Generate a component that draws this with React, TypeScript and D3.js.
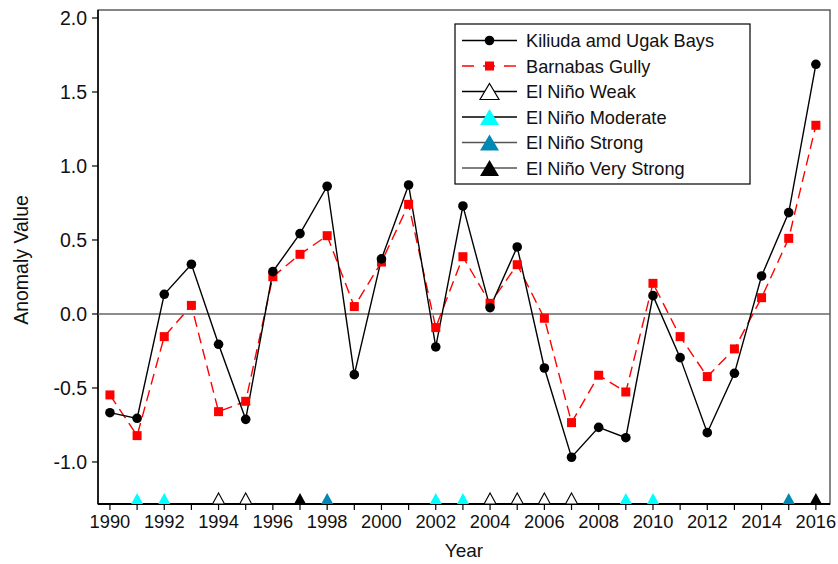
import React from "react";
import * as d3 from "d3";

const years = d3.range(1990, 2017);
const kiliuda = [-0.667, -0.705, 0.133, 0.336, -0.205, -0.712, 0.286, 0.543, 0.863, -0.41, 0.372, 0.872, -0.223, 0.73, 0.043, 0.453, -0.365, -0.968, -0.766, -0.836, 0.124, -0.295, -0.802, -0.401, 0.257, 0.685, 1.687];
const barnabas = [-0.547, -0.822, -0.153, 0.058, -0.66, -0.59, 0.252, 0.403, 0.529, 0.05, 0.351, 0.741, -0.092, 0.387, 0.072, 0.333, -0.029, -0.734, -0.414, -0.527, 0.207, -0.153, -0.423, -0.236, 0.11, 0.511, 1.275];
const ninoWeak = [1994, 1995, 2004, 2005, 2006, 2007];
const ninoModerate = [1991, 1992, 2002, 2003, 2009, 2010];
const ninoStrong = [1998, 2015];
const ninoVeryStrong = [1997, 2016];
const ninoLevel = -1.25;
const yTicks = [-1.0, -0.5, 0.0, 0.5, 1.0, 1.5, 2.0];
const xLabelYears = d3.range(1990, 2017, 2);

const FONT = "Liberation Sans, Arial, sans-serif";

const ninoGroups = [
  { name: "El Niño Weak", years: ninoWeak, fill: "white", stroke: "black", line: "#000" },
  { name: "El Niño Moderate", years: ninoModerate, fill: "#00ffff", stroke: "none", line: "#000" },
  { name: "El Niño Strong", years: ninoStrong, fill: "#0089b2", stroke: "none", line: "#555" },
  { name: "El Niño Very Strong", years: ninoVeryStrong, fill: "#000", stroke: "none", line: "#555" },
];

function tri(cx: number, cy: number, w: number, h: number) {
  return `M${cx},${cy - h / 2}L${cx + w / 2},${cy + h / 2}L${cx - w / 2},${cy + h / 2}Z`;
}

export default function App() {
  const left = 98, right = 830, top = 10, bottom = 504;
  const x = d3.scaleLinear().domain([1989.56, 2016.52]).range([left, right]);
  const y = d3.scaleLinear().domain([-1.284, 2.054]).range([bottom, top]);
  const line = d3.line<number>().x((_, i) => x(years[i])).y((d) => y(d));

  const legendX = 455, legendY = 24, legendW = 295, legendH = 160;
  const rowY = (i: number) => 40.5 + i * 25.5;

  return (
    <svg width={838} height={564} style={{ position: "absolute", left: 0, top: 0, background: "white" }} fontFamily={FONT}>
      <rect x={0} y={0} width={838} height={564} fill="white" />
      {/* frame */}
      <rect x={left} y={top} width={right - left} height={bottom - top} fill="none" stroke="#444" strokeWidth={1.3} />
      <line x1={left} x2={left} y1={top} y2={bottom} stroke="#000" strokeWidth={1.5} />
      <line x1={left} x2={right} y1={bottom} y2={bottom} stroke="#000" strokeWidth={2} />
      {/* zero line */}
      <line x1={left} x2={right} y1={y(0)} y2={y(0)} stroke="#666" strokeWidth={1.6} />
      {/* y ticks */}
      {yTicks.map((t) => (
        <g key={t}>
          <line x1={left - 6} x2={left} y1={y(t)} y2={y(t)} stroke="#000" strokeWidth={1.2} />
          <text x={left - 11} y={y(t) + 7} textAnchor="end" fontSize={19.5} fill="#111">{t.toFixed(1)}</text>
        </g>
      ))}
      {/* x ticks */}
      {years.map((yr) => (
        <line key={yr} x1={x(yr)} x2={x(yr)} y1={bottom} y2={bottom + 6} stroke="#000" strokeWidth={1.2} />
      ))}
      {xLabelYears.map((yr) => (
        <text key={yr} x={x(yr)} y={bottom + 24} textAnchor="middle" fontSize={18.3} fill="#111">{yr}</text>
      ))}
      <text x={464} y={557} textAnchor="middle" fontSize={19} fill="#111">Year</text>
      <text transform={`translate(28,260) rotate(-90)`} textAnchor="middle" fontSize={19.5} fill="#111">Anomaly Value</text>

      {/* El Nino markers */}
      {ninoGroups.map((g) =>
        g.years.map((yr) => (
          <path key={g.name + yr} d={tri(x(yr), y(ninoLevel) - 0.5, 12, 11)} fill={g.fill} stroke={g.stroke} strokeWidth={1.1} />
        ))
      )}

      {/* series */}
      <path d={line(barnabas) || ""} fill="none" stroke="#ff0000" strokeWidth={1.4} strokeDasharray="11,6" />
      <path d={line(kiliuda) || ""} fill="none" stroke="#000" strokeWidth={1.4} />
      {barnabas.map((v, i) => (
        <rect key={"b" + i} x={x(years[i]) - 4.5} y={y(v) - 4.5} width={9} height={9} fill="#ff0000" />
      ))}
      {kiliuda.map((v, i) => (
        <circle key={"k" + i} cx={x(years[i])} cy={y(v)} r={4.8} fill="#000" />
      ))}

      {/* legend */}
      <rect x={legendX} y={legendY} width={legendW} height={legendH} fill="white" stroke="#000" strokeWidth={1.2} />
      <g>
        <line x1={462} x2={517} y1={rowY(0)} y2={rowY(0)} stroke="#000" strokeWidth={1.4} />
        <circle cx={489.5} cy={rowY(0)} r={4.8} fill="#000" />
        <text x={526} y={rowY(0) + 6.5} fontSize={18.2} fill="#111">Kiliuda amd Ugak Bays</text>
      </g>
      <g>
        <line x1={462} x2={517} y1={rowY(1)} y2={rowY(1)} stroke="#ff0000" strokeWidth={1.4} strokeDasharray="12,9" />
        <rect x={485} y={rowY(1) - 4.5} width={9} height={9} fill="#ff0000" />
        <text x={526} y={rowY(1) + 6.5} fontSize={18.2} fill="#111">Barnabas Gully</text>
      </g>
      {ninoGroups.map((g, j) => {
        const cy = rowY(j + 2);
        return (
          <g key={g.name}>
            <line x1={462} x2={517} y1={cy} y2={cy} stroke={g.line} strokeWidth={1.4} />
            <path d={tri(489.5, cy, 19, 16)} fill={g.fill} stroke={g.stroke} strokeWidth={1.2} />
            <text x={526} y={cy + 6.5} fontSize={18.2} fill="#111">{g.name}</text>
          </g>
        );
      })}
    </svg>
  );
}
